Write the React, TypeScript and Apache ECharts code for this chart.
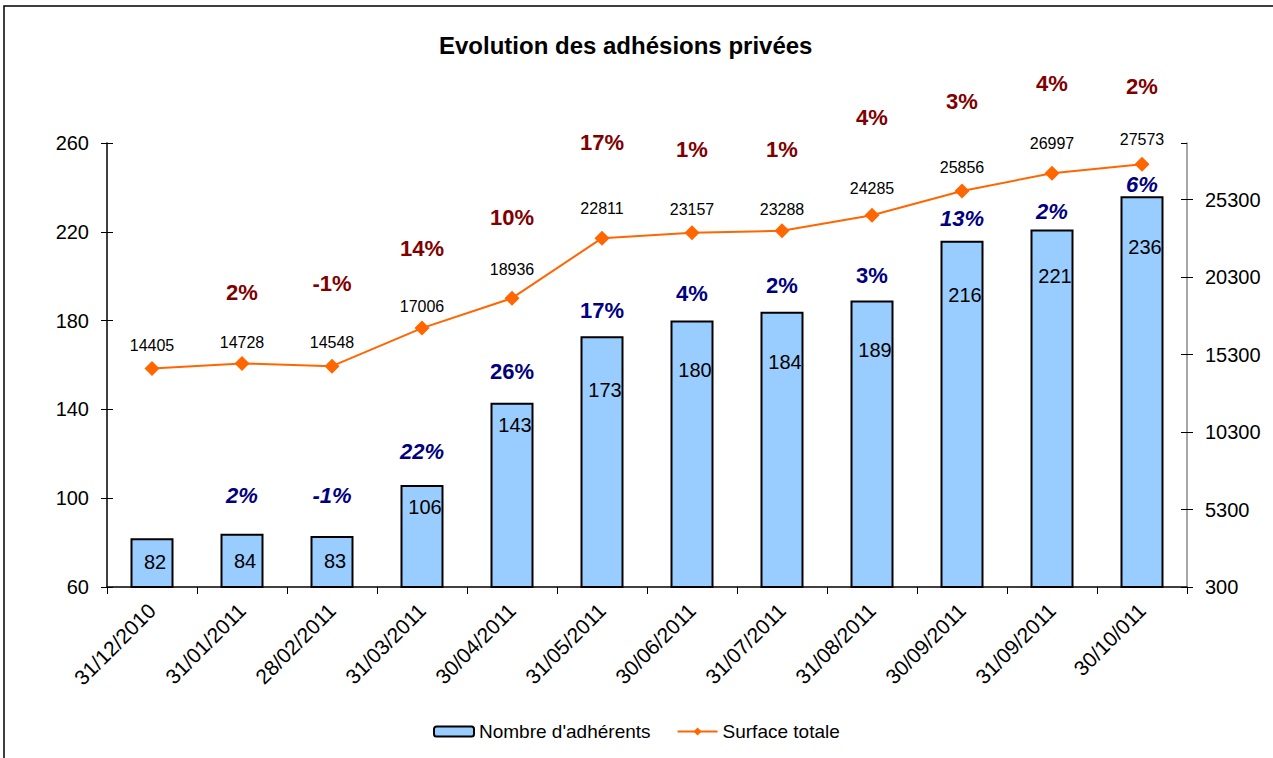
import React, { useEffect, useRef } from "react";
import * as echarts from "echarts";

const categories = [
  "31/12/2010", "31/01/2011", "28/02/2011", "31/03/2011", "30/04/2011", "31/05/2011",
  "30/06/2011", "31/07/2011", "31/08/2011", "30/09/2011", "31/09/2011", "30/10/011",
];
const adherents = [82, 84, 83, 106, 143, 173, 180, 184, 189, 216, 221, 236];
const surface = [14405, 14728, 14548, 17006, 18936, 22811, 23157, 23288, 24285, 25856, 26997, 27573];
const adherentsGrowth = ["", "2%", "-1%", "22%", "26%", "17%", "4%", "2%", "3%", "13%", "2%", "6%"];
const surfaceGrowth = ["", "2%", "-1%", "14%", "10%", "17%", "1%", "1%", "4%", "3%", "4%", "2%"];
const leftTicks = { min: 60, max: 260, interval: 40 };
const rightTicks = { min: 300, max: 28950, interval: 5000 };

// label layout (style only)
const adhGrowthItalic = [false, true, true, true, false, false, false, false, false, true, true, true];
const barLabelDy = [24, 27, 25, 22, 22, 54, 49, 50, 49, 54, 46, 51];
const adhGrowthDy = [0, -38, -40, -33, -31, -26, -27, -26, -25, -22, -18, -12];
const surfLabelDy = [-23, -21, -24, -22, -29, -30, -23, -21, -27, -23, -30, -25];
const surfGrowthDy = [0, -71, -83, -80, -81, -96, -83, -81, -98, -89, -90, -78];

const FONT = "'Liberation Sans', Arial, sans-serif";
const NAVY = "#000080";
const MAROON = "#800000";

export default function App() {
  const ref = useRef<HTMLDivElement>(null);
  useEffect(() => {
    document.body.style.margin = "0";
    const chart = echarts.init(ref.current!, null, { renderer: "svg" });
    const hidden = { color: "rgba(0,0,0,0)", opacity: 1 };
    const rightFmt = (v: number) =>
      (v - rightTicks.min) % rightTicks.interval === 0 ? String(v) : "";
    const labelSeries = (
      name: string,
      axis: number,
      values: number[],
      make: (v: number, i: number) => any
    ) => ({
      name,
      type: "scatter",
      yAxisIndex: axis,
      symbolSize: 1,
      itemStyle: hidden,
      clip: false,
      silent: true,
      z: 4,
      data: values.map((v, i) => ({ value: v, label: make(v, i) })),
    });
    chart.setOption({
      animation: false,
      textStyle: { fontFamily: FONT },
      title: {
        text: "Evolution des adhésions privées",
        left: 434,
        top: 28,
        textStyle: { fontFamily: FONT, fontSize: 24, fontWeight: "bold", color: "#000" },
      },
      graphic: [
        {
          type: "rect",
          shape: { x: 4, y: 6, width: 1320, height: 800 },
          style: { fill: "none", stroke: "#000", lineWidth: 1.5 },
          silent: true,
        },
      ],
      legend: {
        data: ["Nombre d'adhérents", "Surface totale"],
        left: 428,
        top: 717,
        itemWidth: 40,
        itemHeight: 10,
        itemGap: 26,
        textStyle: { fontFamily: FONT, fontSize: 19, color: "#000" },
      },
      grid: { left: 107, right: 86, top: 143, bottom: 171, containLabel: false },
      xAxis: {
        type: "category",
        data: categories,
        axisLine: { lineStyle: { color: "#000", width: 1.5 } },
        axisTick: { show: true, length: 7, lineStyle: { color: "#000" } },
        axisLabel: {
          rotate: 45,
          margin: 20,
          fontSize: 21,
          fontFamily: FONT,
          color: "#000",
          interval: 0,
        },
      },
      yAxis: [
        {
          type: "value",
          position: "left",
          ...leftTicks,
          splitLine: { show: false },
          axisLine: { show: true, lineStyle: { color: "#000", width: 1.5 } },
          axisTick: { show: true, length: 6, lineStyle: { color: "#000" } },
          axisLabel: { fontSize: 20, fontFamily: FONT, color: "#000", margin: 18 },
        },
        {
          type: "value",
          position: "right",
          ...rightTicks,
          splitLine: { show: false },
          axisLine: { show: true, lineStyle: { color: "#888", width: 1.5 } },
          axisTick: { show: true, length: 6, lineStyle: { color: "#000" } },
          axisLabel: {
            fontSize: 20,
            fontFamily: FONT,
            color: "#000",
            margin: 18,
            formatter: rightFmt,
            showMaxLabel: false,
          },
        },
        {
          type: "value",
          position: "left",
          ...leftTicks,
          splitLine: { show: false },
          axisLine: { show: false },
          axisTick: { show: true, inside: true, length: 6, lineStyle: { color: "#000" } },
          axisLabel: { show: false },
        },
        {
          type: "value",
          position: "right",
          ...rightTicks,
          splitLine: { show: false },
          axisLine: { show: false },
          axisTick: { show: true, inside: true, length: 6, lineStyle: { color: "#000" } },
          axisLabel: { show: false },
        },
      ],
      series: [
        {
          name: "Nombre d'adhérents",
          type: "bar",
          yAxisIndex: 0,
          data: adherents,
          barWidth: 43,
          itemStyle: { color: "#99CCFF", borderColor: "#000", borderWidth: 2 },
        },
        {
          name: "Surface totale",
          type: "line",
          yAxisIndex: 1,
          data: surface,
          symbol: "diamond",
          symbolSize: 15,
          lineStyle: { color: "#FF6600", width: 2 },
          itemStyle: { color: "#FF6600" },
          z: 3,
        },
        labelSeries("barLabels", 0, adherents, (v, i) => ({
          show: true,
          position: "inside",
          offset: [3, barLabelDy[i]],
          formatter: String(v),
          fontSize: 20,
          fontFamily: FONT,
          color: "#000",
          textBorderWidth: 0,
        })),
        labelSeries("adhGrowth", 0, adherents, (_v, i) => ({
          show: adherentsGrowth[i] !== "",
          position: "inside",
          offset: [0, adhGrowthDy[i]],
          formatter: adherentsGrowth[i],
          fontSize: 22,
          fontWeight: "bold",
          fontStyle: adhGrowthItalic[i] ? "italic" : "normal",
          fontFamily: FONT,
          color: NAVY,
          textBorderWidth: 0,
        })),
        labelSeries("surfLabels", 1, surface, (v, i) => ({
          show: true,
          position: "inside",
          offset: [0, surfLabelDy[i]],
          formatter: String(v),
          fontSize: 16,
          fontFamily: FONT,
          color: "#000",
          textBorderWidth: 0,
        })),
        labelSeries("surfGrowth", 1, surface, (_v, i) => ({
          show: surfaceGrowth[i] !== "",
          position: "inside",
          offset: [0, surfGrowthDy[i]],
          formatter: surfaceGrowth[i],
          fontSize: 22,
          fontWeight: "bold",
          fontFamily: FONT,
          color: MAROON,
          textBorderWidth: 0,
        })),
      ],
    });
    return () => chart.dispose();
  }, []);
  return <div ref={ref} style={{ width: 1273, height: 758 }} />;
}
